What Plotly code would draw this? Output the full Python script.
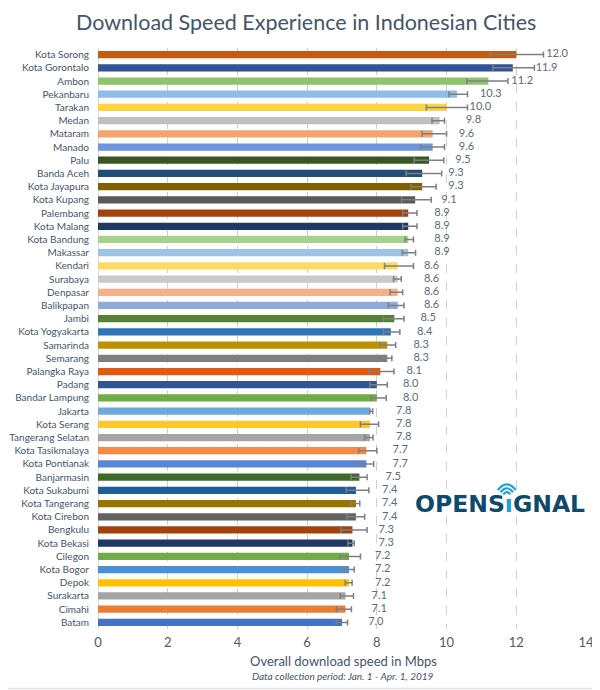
import plotly.graph_objects as go

cities = ["Kota Sorong", "Kota Gorontalo", "Ambon", "Pekanbaru", "Tarakan", "Medan", "Mataram",
          "Manado", "Palu", "Banda Aceh", "Kota Jayapura", "Kota Kupang", "Palembang", "Kota Malang",
          "Kota Bandung", "Makassar", "Kendari", "Surabaya", "Denpasar", "Balikpapan", "Jambi",
          "Kota Yogyakarta", "Samarinda", "Semarang", "Palangka Raya", "Padang", "Bandar Lampung",
          "Jakarta", "Kota Serang", "Tangerang Selatan", "Kota Tasikmalaya", "Kota Pontianak",
          "Banjarmasin", "Kota Sukabumi", "Kota Tangerang", "Kota Cirebon", "Bengkulu", "Kota Bekasi",
          "Cilegon", "Kota Bogor", "Depok", "Surakarta", "Cimahi", "Batam"]

speeds = [12.0, 11.9, 11.2, 10.3, 10.0, 9.8, 9.6, 9.6, 9.5, 9.3, 9.3, 9.1, 8.9, 8.9,
          8.9, 8.9, 8.6, 8.6, 8.6, 8.6, 8.5, 8.4, 8.3, 8.3, 8.1, 8.0, 8.0,
          7.8, 7.8, 7.8, 7.7, 7.7, 7.5, 7.4, 7.4, 7.4, 7.3, 7.3, 7.2, 7.2, 7.2, 7.1, 7.1, 7.0]

ci_low = [11.25, 11.33, 10.58, 10.07, 9.42, 9.58, 9.30, 9.25, 9.07, 8.84, 8.98, 8.71, 8.74, 8.74,
          8.81, 8.73, 8.22, 8.48, 8.38, 8.33, 8.18, 8.19, 8.09, 8.21, 7.76, 7.80, 7.84,
          7.80, 7.53, 7.65, 7.48, 7.48, 7.26, 7.12, 7.25, 7.14, 6.97, 7.17, 6.94, 7.03, 7.09, 6.95, 6.84, 6.84]

ci_high = [12.78, 12.52, 11.76, 10.60, 10.60, 9.94, 10.00, 9.94, 9.92, 9.86, 9.70, 9.56, 9.15, 9.15,
           9.05, 9.11, 9.05, 8.70, 8.74, 8.78, 8.78, 8.66, 8.54, 8.43, 8.49, 8.30, 8.27,
           7.88, 8.05, 7.89, 8.00, 7.91, 7.72, 7.77, 7.51, 7.65, 7.72, 7.35, 7.53, 7.35, 7.29, 7.33, 7.27, 7.16]

bar_colors = ["#C55A11", "#2F5597", "#8CC66A", "#8DBDE8", "#FFD23F", "#BFBFBF", "#F4A36C",
              "#6F96DC", "#385723", "#1F4E79", "#806000", "#595959", "#A5420B", "#203864",
              "#A9D18E", "#9DC3E6", "#FFD966", "#C9C9C9", "#F8B08A", "#8FAADC", "#548235",
              "#2E75B6", "#BF9000", "#7F7F7F", "#E05A10", "#2F5597", "#70AD47",
              "#6FA8DC", "#FFC72C", "#A5A5A5", "#F4894A", "#5B84D6", "#3B6B26", "#1F5C99",
              "#997300", "#636363", "#A5420B", "#203864", "#70AD47", "#4A90D9", "#FFC000",
              "#A5A5A5", "#ED7D31", "#4472C4"]

x_ticks = [0, 2, 4, 6, 8, 10, 12, 14]

err_plus = [h - v for h, v in zip(ci_high, speeds)]
err_minus = [v - l for l, v in zip(ci_low, speeds)]
label_offsets = [1.17] + [0.97] * (len(speeds) - 1)

slate = "#44546A"
font_family = "Lato, 'Open Sans', sans-serif"

fig = go.Figure()
fig.add_trace(go.Bar(
    x=speeds, y=cities, orientation="h",
    marker=dict(color=bar_colors, line=dict(width=0)),
    error_x=dict(type="data", symmetric=False, array=err_plus, arrayminus=err_minus,
                 color="#7F7F7F", thickness=1.5, width=3),
    hoverinfo="x+y", showlegend=False,
))
fig.add_trace(go.Scatter(
    x=[v + o for v, o in zip(speeds, label_offsets)], y=cities, mode="text",
    text=[f"{v:.1f}" for v in speeds], textposition="middle center",
    textfont=dict(family=font_family, size=11, color="#5B6A7E"),
    hoverinfo="skip", showlegend=False, cliponaxis=False,
))

# The page body has an 8px margin: design in reference pixels, shift by OFF.
OFF = 8
W, H = 600 - OFF, 690 - OFF
PL, PR, PT, PB = 98, 585.7, 48.4, 628.6   # plot area in reference pixels
L, R, T, B = PL - OFF, W - (PR - OFF), PT - OFF, H - (PB - OFF)
PW = PR - PL
PH = PB - PT
def px(x):
    return (x - PL) / PW
def py(y):
    return (PB - y) / PH

shapes = [dict(type="rect", xref="paper", yref="paper",
               x0=px(5), x1=px(596), y0=py(688), y1=py(6),
               line=dict(color="#E3E3E3", width=1.5), fillcolor="rgba(0,0,0,0)", layer="below")]

# Signal icon above the "i" of the logo
cx, cy = 506.5, 497
for r in [4.5, 8.0, 11.5]:
    x0, y0 = cx - r * 0.78, cy - r * 0.62
    x1, y1 = cx + r * 0.78, cy - r * 0.62
    qy = cy - r * 1.62
    shapes.append(dict(type="path", xref="paper", yref="paper",
                       path=f"M {px(x0)},{py(y0)} Q {px(cx)},{py(qy)} {px(x1)},{py(y1)}",
                       line=dict(color="#1BA1DB", width=2.2)))

annotations = [
    dict(text="Download Speed Experience in Indonesian Cities", xref="paper", yref="paper",
         x=px(306), y=py(22), showarrow=False, xanchor="center", yanchor="middle",
         font=dict(family=font_family, size=21.5, color=slate)),
    dict(text="Overall download speed in Mbps", xref="paper", yref="paper",
         x=px(343), y=py(661), showarrow=False, xanchor="center", yanchor="middle",
         font=dict(family=font_family, size=13, color=slate)),
    dict(text="<i>Data collection period: Jan. 1 - Apr. 1, 2019</i>", xref="paper", yref="paper",
         x=px(343), y=py(676), showarrow=False, xanchor="center", yanchor="middle",
         font=dict(family=font_family, size=10, color=slate)),
    dict(text="OPENS<span style='color:#1BA1DB'>ı</span>GNAL", xref="paper", yref="paper",
         x=px(413), y=py(504), showarrow=False, xanchor="left", yanchor="middle",
         font=dict(family="DejaVu Sans", size=23.5, color="#0E4A6B", weight="bold")),
]

n = len(cities)
fig.update_layout(
    width=W, height=H,
    margin=dict(l=L, r=R, t=T, b=B, autoexpand=False),
    paper_bgcolor="white", plot_bgcolor="white",
    bargap=0.45,
    font=dict(family=font_family, color=slate),
    xaxis=dict(range=[0, 14], tickvals=x_ticks, showgrid=True, gridcolor="#D0D0D0",
               griddash="dash", gridwidth=1, zeroline=True, zerolinecolor="#D9D9D9",
               zerolinewidth=1, tickfont=dict(family=font_family, size=13, color="#595959"),
               ticks="", ticklabelstandoff=4, fixedrange=True, automargin=False),
    yaxis=dict(range=[n - 0.5, -0.5], type="category", categoryorder="array",
               categoryarray=cities, tickmode="array", tickvals=cities, ticktext=cities,
               showgrid=False, ticks="",
               tickfont=dict(family=font_family, size=10, color=slate),
               ticklabelstandoff=8, fixedrange=True, automargin=False),
    shapes=shapes, annotations=annotations,
)

fig.write_html("out.html")
